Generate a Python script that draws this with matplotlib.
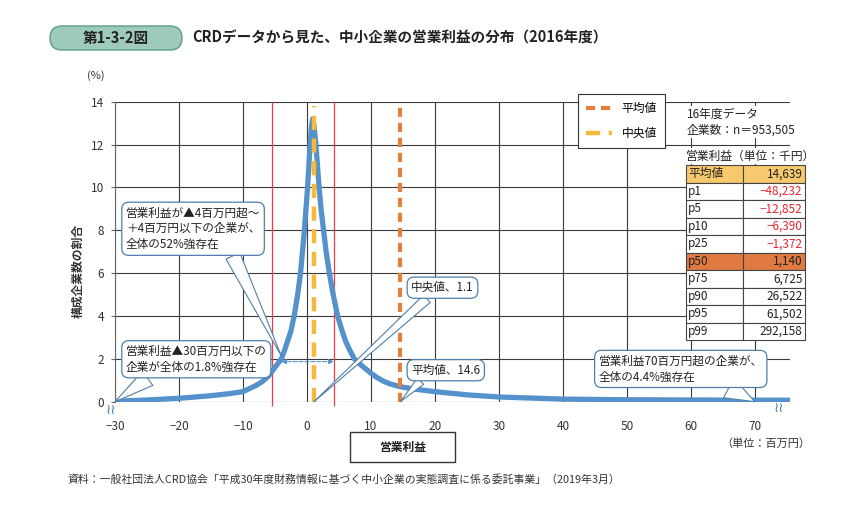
import matplotlib.pyplot as plt
from matplotlib.patches import FancyBboxPatch
from matplotlib.lines import Line2D

plt.rcParams['font.family'] = ['Noto Sans CJK JP', 'DejaVu Sans']
plt.rcParams['axes.unicode_minus'] = True

# 営業利益（百万円）と構成企業数の割合（%）
profit_x = [-30, -25, -20, -15, -12, -10, -8, -7, -6, -5, -4.5, -4, -3.5, -3, -2.5, -2, -1.5, -1, -0.7,
            -0.4, -0.15, 0.1, 0.3, 0.5, 0.7, 0.9, 1.1, 1.4, 1.65, 1.9, 2.2, 2.6, 3.0, 3.5, 4.1, 4.8,
            5.4, 6.0, 6.7, 7.4, 8.5, 10, 11, 12, 13, 14.6, 17, 20, 25, 30, 40, 50, 60, 70, 75.5]
share_y = [0.02, 0.08, 0.16, 0.28, 0.38, 0.47, 0.75, 0.93, 1.2, 1.6, 1.8, 2.0, 2.4, 2.85, 3.3, 4.0, 4.9,
           6.0, 7.0, 8.0, 9.0, 10.0, 11.0, 12.0, 12.8, 13.2, 12.9, 12.0, 11.0, 10.0, 9.0, 8.0, 7.0, 6.0,
           5.0, 4.0, 3.4, 2.85, 2.4, 2.0, 1.7, 1.33, 1.12, 0.95, 0.83, 0.70, 0.58, 0.47, 0.32, 0.22,
           0.12, 0.09, 0.08, 0.07, 0.07]

mean_val = 14.6
median_val = 1.1
band_lines = [-5.5, 4.3]      # 赤線
band_arrow = [-4.0, 4.2]      # ±4百万円

x_ticks = [-30, -20, -10, 0, 10, 20, 30, 40, 50, 60, 70]
y_ticks = [0, 2, 4, 6, 8, 10, 12, 14]

tbl_labels = ['平均値', 'p1', 'p5', 'p10', 'p25', 'p50', 'p75', 'p90', 'p95', 'p99']
tbl_values = ['14,639', '−48,232', '−12,852', '−6,390', '−1,372', '1,140', '6,725', '26,522', '61,502', '292,158']

c_curve = '#5592CB'
c_mean = '#E57F3E'
c_median = '#F6B93B'
c_red = '#EE3B45'
c_box = '#4F7FA8'
c_grid = '#3a3a3a'

fig = plt.figure(figsize=(8.64, 5.31), dpi=100)
W, H = 864, 531
ax = fig.add_axes([115 / W, 1 - 401.7 / H, (790 - 115) / W, 300 / H])
ax.set_xlim(-30, 75.5)
ax.set_ylim(0, 14)

ax.set_xticks(x_ticks)
ax.set_xticklabels([str(v).replace('-', '−') for v in x_ticks])
ax.set_yticks(y_ticks)
ax.grid(True, color=c_grid, lw=0.8)
ax.set_axisbelow(True)
for s in ['top', 'right', 'bottom']:
    ax.spines[s].set_visible(False)
ax.spines['left'].set_color('#666')
ax.tick_params(axis='x', length=0, pad=13, labelsize=8.5, labelcolor='#333')
ax.tick_params(axis='y', length=3, color='#666', pad=5, labelsize=8.5, labelcolor='#333')

# 赤線
ax.vlines(band_lines, -0.2, 14, color=c_red, lw=0.9, clip_on=False, zorder=2)

# 分布曲線
ax.plot(profit_x, share_y, color=c_curve, lw=3.8, solid_joinstyle='round',
        solid_capstyle='round', zorder=3)

# 平均値・中央値
ax.plot([mean_val, mean_val], [0, 13.95], color=c_mean, lw=3, dashes=(2.2, 1.4), zorder=4)
ax.plot([median_val, median_val], [0, 13.8], color=c_median, lw=3.2, dashes=(3.2, 1.9), zorder=4)

# ±4百万円の矢印
ax.annotate('', xy=(band_arrow[0], 1.87), xytext=(band_arrow[1], 1.87),
            arrowprops=dict(arrowstyle='<|-|>', color=c_curve, lw=0.8, ls='--',
                            mutation_scale=7, shrinkA=0, shrinkB=0), zorder=5)

# 吹き出し
def callout(txt, xy, xytext, relpos, tw):
    ax.annotate(txt, xy=xy, xytext=xytext, ha='left', va='center', fontsize=8.4,
                linespacing=1.3, color='#222', zorder=6, annotation_clip=False,
                bbox=dict(boxstyle='round,pad=0.35,rounding_size=0.6', fc='white', ec=c_box, lw=0.9),
                arrowprops=dict(arrowstyle='wedge,tail_width=%s' % tw, fc='white', ec=c_box,
                                lw=0.8, relpos=relpos, shrinkA=0, shrinkB=0))

callout('営業利益が▲4百万円超～\n＋4百万円以下の企業が、\n全体の52%強存在', (-4.03, 2.15), (-28.3, 8.07), (0.78, 0), 1.3)
callout('営業利益▲30百万円以下の\n企業が全体の1.8%強存在', (-30, 0), (-28.3, 1.98), (0.2, 0), 1.5)
callout('中央値、1.1', (median_val, 0), (16.3, 5.32), (0.33, 0), 0.85)
callout('平均値、14.6', (mean_val, 0), (16.3, 1.47), (0.2, 0), 0.75)
callout('営業利益70百万円超の企業が、\n全体の4.4%強存在', (70, 0), (45.6, 1.53), (0.74, 0), 1.9)

# 省略記号
ax.text(-30.7, -0.38, '≀≀', ha='center', va='center', fontsize=10, color='#4a7ea8',
        family='DejaVu Sans', clip_on=False)
ax.text(73.7, -0.3, '≀≀', ha='center', va='center', fontsize=10, color='#4a7ea8',
        family='DejaVu Sans', clip_on=False)

# 凡例
handles = [Line2D([], [], color=c_mean, lw=3, dashes=(2.2, 1.4)),
           Line2D([], [], color=c_median, lw=3.2, dashes=(3.2, 1.9))]
leg = ax.legend(handles, ['平均値', '中央値'], loc='upper left', bbox_to_anchor=(578 / W, 1 - 94 / H),
                bbox_transform=fig.transFigure, fontsize=8.5, frameon=True, fancybox=False,
                edgecolor='#333', handlelength=2.2, labelspacing=1.0, borderpad=0.7,
                borderaxespad=0, framealpha=1)
leg.get_frame().set_linewidth(0.8)
leg.set_zorder(10)

fig.text(687 / W, 1 - 122 / H, '16年度データ\n企業数：n＝953,505', fontsize=8.5, va='center', ha='left',
         linespacing=1.3, color='#222',
         bbox=dict(boxstyle='square,pad=0.15', fc='white', ec='none'))
fig.text(686 / W, 1 - 156 / H, '営業利益（単位：千円）', fontsize=8.5, va='center', ha='left', color='#222',
         bbox=dict(boxstyle='square,pad=0.1', fc='white', ec='none'))

# 表
tax = fig.add_axes([686 / W, 1 - 340 / H, 119 / W, 175 / H])
tax.axis('off')
tbl = tax.table(cellText=[[a, b] for a, b in zip(tbl_labels, tbl_values)],
                bbox=[0, 0, 1, 1], colWidths=[57 / 119, 62 / 119])
tbl.auto_set_font_size(False)
for (r, c), cell in tbl.get_celld().items():
    cell.set_edgecolor('#444')
    cell.set_linewidth(0.8)
    cell.PAD = 0.04
    t = cell.get_text()
    t.set_fontsize(8.5)
    t.set_color('#222')
    if c == 0:
        cell._loc = 'left'
        t.set_ha('left')
    else:
        cell._loc = 'right'
        t.set_ha('right')
        if tbl_values[r].startswith('−'):
            t.set_color('#E8232F')
    if tbl_labels[r] == '平均値':
        cell.set_facecolor('#F7C96E')
    elif tbl_labels[r] == 'p50':
        cell.set_facecolor('#E07A40')

# タイトル
fig.patches.append(FancyBboxPatch((0.50, (H - 50) / 100), 1.32, 0.24,
                                  boxstyle='round,pad=0,rounding_size=0.12',
                                  transform=fig.dpi_scale_trans, fc='#9ECBB9', ec='#5A9C86', lw=1))
fig.text(116 / W, 1 - 38 / H, '第1-3-2図', fontsize=10.5, weight='bold', color='#222',
         ha='center', va='center')
fig.text(192 / W, 1 - 38 / H, 'CRDデータから見た、中小企業の営業利益の分布（2016年度）', fontsize=10.5,
         weight='bold', color='#222', ha='left', va='center')

fig.text(96 / W, 1 - 76 / H, '(%)', fontsize=8, color='#333', ha='center', va='center')
fig.text(78 / W, 1 - 271 / H, '構成企業数の割合', fontsize=8.5, weight='bold', color='#333',
         rotation=90, ha='center', va='center')

# x軸ラベル
fig.patches.append(FancyBboxPatch((3.50, (H - 462) / 100), 1.05, 0.30, boxstyle='square,pad=0',
                                  transform=fig.dpi_scale_trans, fc='white', ec='#333', lw=1))
fig.text(403 / W, 1 - 447 / H, '営業利益', fontsize=8.5, weight='bold', color='#222',
         ha='center', va='center')
fig.text(810 / W, 1 - 444 / H, '（単位：百万円）', fontsize=8, color='#333', ha='right', va='center')

fig.text(68 / W, 1 - 479 / H, '資料：一般社団法人CRD協会「平成30年度財務情報に基づく中小企業の実態調査に係る委託事業」（2019年3月）',
         fontsize=7.8, color='#333', ha='left', va='center')

fig.savefig('out.png', dpi=100)
